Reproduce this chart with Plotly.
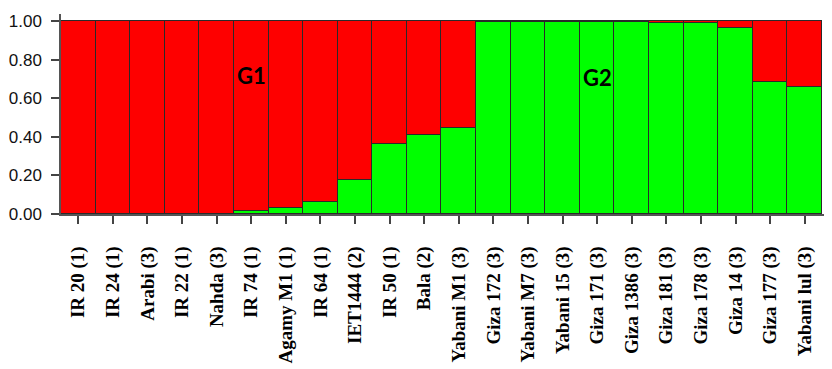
import plotly.graph_objects as go

accessions = ["IR 20 (1)", "IR 24 (1)", "Arabi (3)", "IR 22 (1)", "Nahda (3)", "IR 74 (1)",
              "Agamy M1 (1)", "IR 64 (1)", "IET1444 (2)", "IR 50 (1)", "Bala (2)", "Yabani M1 (3)",
              "Giza 172 (3)", "Yabani M7 (3)", "Yabani 15 (3)", "Giza 171 (3)", "Giza 1386 (3)",
              "Giza 181 (3)", "Giza 178 (3)", "Giza 14 (3)", "Giza 177 (3)", "Yabani lul (3)"]
green_g2 = [0.0, 0.0, 0.0, 0.0, 0.0, 0.017, 0.033, 0.064, 0.176, 0.363, 0.41, 0.447,
            0.995, 0.995, 0.995, 0.995, 0.995, 0.988, 0.988, 0.962, 0.682, 0.66]
red_g1 = [round(1 - g, 3) for g in green_g2]
y_ticks = [0.0, 0.2, 0.4, 0.6, 0.8, 1.0]
group_labels = ["G1", "G2"]
group_pos = [(5, 0.72), (15, 0.705)]

fig = go.Figure()
fig.add_trace(go.Bar(x=accessions, y=green_g2, marker=dict(color="#00ff00", line=dict(color="#2a2a2a", width=1)),
                     name="G2", hoverinfo="x+y"))
fig.add_trace(go.Bar(x=accessions, y=red_g1, marker=dict(color="#fe0000", line=dict(color="#2a2a2a", width=1)),
                     name="G1", hoverinfo="x+y"))

for lab, (xi, yv) in zip(group_labels, group_pos):
    fig.add_annotation(x=accessions[xi], y=yv, text=lab, showarrow=False,
                       font=dict(family="Lato", size=22, color="black", weight="bold"))

# page body has an 8px default margin, so margins are offset to land the plot where the reference has it
fig.update_layout(
    barmode="stack", bargap=0, showlegend=False,
    width=824, height=361,
    margin=dict(l=53, r=0, t=6, b=155),
    plot_bgcolor="white", paper_bgcolor="white",
)
fig.update_xaxes(
    type="category", range=[-0.5, 21.79], automargin=False,
    showline=True, linecolor="#555", linewidth=1.5,
    ticks="outside", ticklen=8, tickcolor="#444", tickwidth=1.5,
    tickangle=-90, ticklabelstandoff=15,
    tickfont=dict(family="Liberation Serif", size=19, color="black", weight="bold"),
    showgrid=False,
)
fig.update_yaxes(
    range=[0, 1.036], tickvals=y_ticks, ticktext=[f"{v:.2f}" for v in y_ticks], automargin=False,
    showline=True, linecolor="#555", linewidth=1.5,
    ticks="outside", ticklen=8, tickcolor="#444", tickwidth=1.5, ticklabelstandoff=6,
    tickfont=dict(family="Liberation Sans", size=17, color="#111"),
    showgrid=False, zeroline=False,
)
fig.write_html("out.html")
